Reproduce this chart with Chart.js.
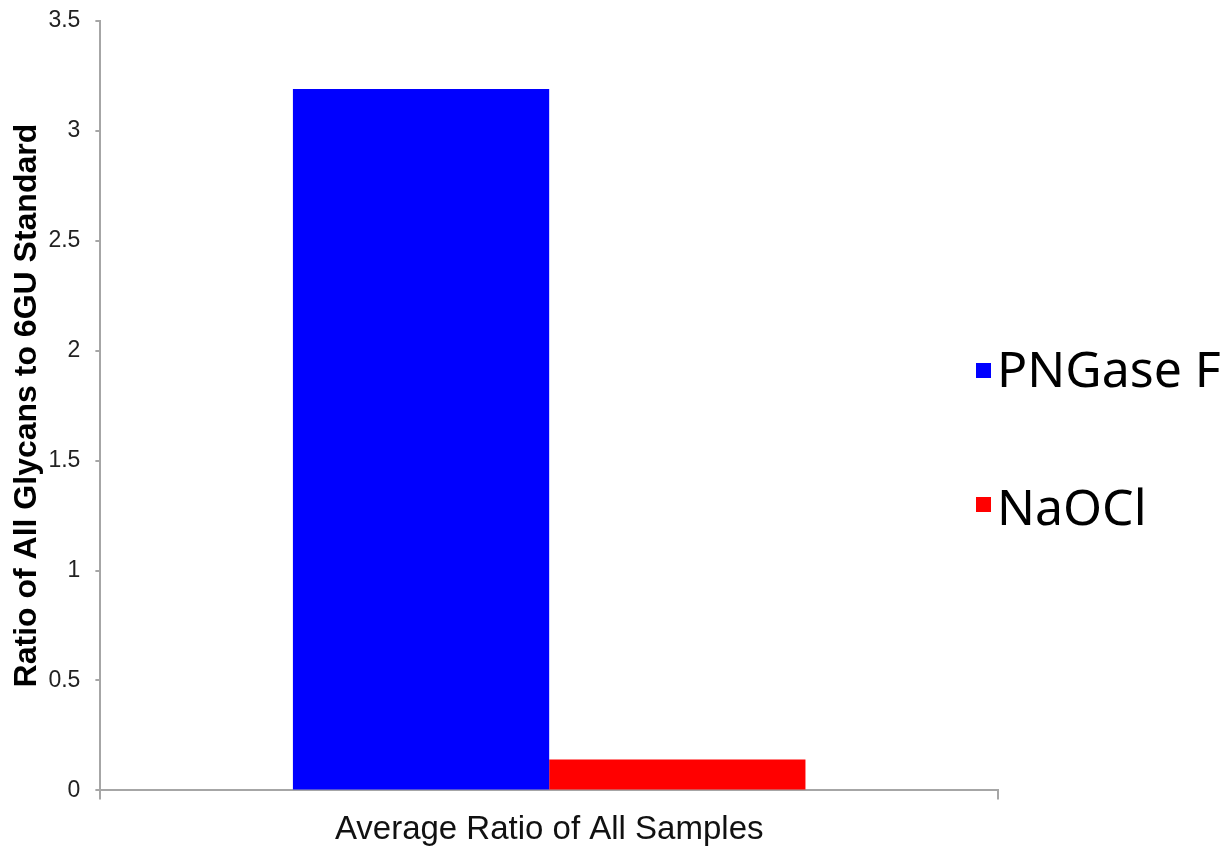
<!DOCTYPE html>
<html>
<head>
<meta charset="utf-8">
<script src="https://cdn.jsdelivr.net/npm/chart.js@4.4.1/dist/chart.umd.min.js"></script>
<style>
  html, body { margin: 0; padding: 0; background: #fff; }
  #wrap { width: 1232px; height: 847px; }
</style>
</head>
<body>
<div id="wrap"><canvas id="chart"></canvas></div>
<script>
const categories = ['Average Ratio of All Samples'];
const seriesNames = ['PNGase F', 'NaOCl'];
const pngaseValues = [3.19];
const naoclValues = [0.14];
const seriesColors = ['#0000ff', '#ff0000'];
const yTicks = [0, 0.5, 1, 1.5, 2, 2.5, 3, 3.5];
const yTitle = 'Ratio of All Glycans to 6GU Standard';

const axisColor = '#a6a6a6';
const arial = "'Liberation Sans', Arial, sans-serif";

// legend drawn to the right of the plot, large labels like the original
const sideLegend = {
  id: 'sideLegend',
  afterDraw(chart) {
    const ctx = chart.ctx;
    const rows = [{ box: 363, base: 387 }, { box: 497, base: 525 }];
    ctx.save();
    ctx.font = "50px 'Noto Sans', sans-serif";
    ctx.textBaseline = 'alphabetic';
    chart.data.datasets.forEach((ds, i) => {
      ctx.fillStyle = ds.backgroundColor;
      ctx.fillRect(976, rows[i].box, 15, 15);
      ctx.fillStyle = '#000';
      ctx.fillText(ds.label, 997, rows[i].base);
    });
    ctx.restore();
  }
};

new Chart(document.getElementById('chart'), {
  type: 'bar',
  data: {
    labels: categories,
    datasets: [
      { label: seriesNames[0], data: pngaseValues, backgroundColor: seriesColors[0] },
      { label: seriesNames[1], data: naoclValues, backgroundColor: seriesColors[1] }
    ]
  },
  options: {
    responsive: true,
    maintainAspectRatio: false,
    animation: false,
    layout: { padding: { top: 0, right: 234, bottom: -14, left: 0 } },
    datasets: { bar: { categoryPercentage: 0.571, barPercentage: 1, borderWidth: 0 } },
    plugins: { legend: { display: false }, tooltip: { enabled: false } },
    scales: {
      x: {
        offset: true,
        grid: { offset: true, drawOnChartArea: false, tickLength: 9, color: axisColor, lineWidth: 2 },
        border: { color: axisColor, width: 2 },
        ticks: { font: { family: arial, size: 33 }, color: '#111', padding: 11 }
      },
      y: {
        min: 0,
        max: 3.5,
        afterBuildTicks: s => { s.ticks = yTicks.map(v => ({ value: v })); },
        grid: { drawOnChartArea: false, tickLength: 5, color: axisColor, lineWidth: 2 },
        border: { color: axisColor, width: 2 },
        ticks: { font: { family: arial, size: 23, lineHeight: 0.5 }, color: '#222', padding: 15, callback: v => String(v) },
        title: {
          display: true,
          text: yTitle,
          font: { family: arial, size: 32, weight: 'bold' },
          color: '#000',
          padding: { top: 8, bottom: -13 }
        }
      }
    }
  },
  plugins: [sideLegend]
});
</script>
</body>
</html>
